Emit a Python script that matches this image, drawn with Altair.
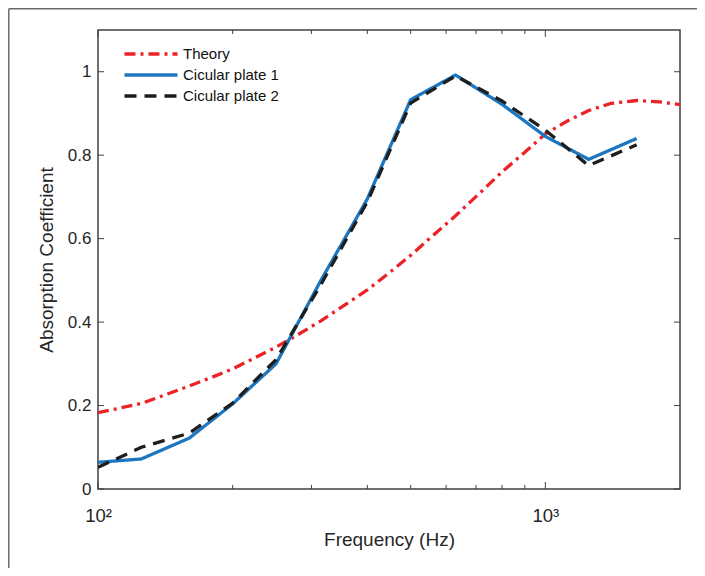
import altair as alt
import pandas as pd

# ---- data ----
freqs = [100, 125, 160, 200, 250, 315, 400, 500, 630, 800, 1000, 1250, 1600]
plate1 = [0.064, 0.072, 0.122, 0.204, 0.300, 0.500, 0.695, 0.933, 0.992, 0.922, 0.845, 0.790, 0.840]
plate2 = [0.052, 0.100, 0.134, 0.206, 0.310, 0.490, 0.688, 0.925, 0.990, 0.930, 0.860, 0.775, 0.825]

theory_freqs = [100, 112, 125, 140, 160, 180, 200, 225, 250, 280, 315, 355, 400, 450,
                500, 560, 630, 710, 800, 900, 1000, 1120, 1250, 1400, 1600, 1800, 2000]
theory_vals = [0.183, 0.194, 0.205, 0.224, 0.247, 0.268, 0.288, 0.315, 0.340, 0.370,
               0.403, 0.440, 0.477, 0.520, 0.560, 0.607, 0.655, 0.707, 0.760, 0.807,
               0.851, 0.882, 0.907, 0.924, 0.931, 0.928, 0.921]

series_names = ["Theory", "Cicular plate 1", "Cicular plate 2"]
series_colors = ["#ec2227", "#1c77c0", "#1e1e1e"]
series_dash = [[11, 5, 3, 5], [1, 0], [12, 8]]

x_major = [100, 1000]
x_minor = [200, 300, 400, 500, 600, 700, 800, 900]
y_ticks = [0, 0.2, 0.4, 0.6, 0.8, 1.0]

x_domain = [100, 2000]
y_domain = [0, 1.1]

W, H = 582, 459
FONT = "Liberation Sans"
AXIS_COLOR = "#404040"
X_TITLE = "Frequency (Hz)"
Y_TITLE = "Absorption Coefficient"

rows = []
for f, v in zip(theory_freqs, theory_vals):
    rows.append({"freq": f, "val": v, "series": series_names[0], "order": 0})
for f, v in zip(freqs, plate1):
    rows.append({"freq": f, "val": v, "series": series_names[1], "order": 1})
for f, v in zip(freqs, plate2):
    rows.append({"freq": f, "val": v, "series": series_names[2], "order": 2})
df = pd.DataFrame(rows)

xscale = alt.Scale(type="log", domain=x_domain, nice=False)
yscale = alt.Scale(domain=y_domain, nice=False, zero=False)

xaxis = alt.Axis(values=x_major, ticks=False, grid=False, domain=False,
                 labelExpr="datum.value == 100 ? '10²' : '10³'",
                 labelFontSize=18.5, labelPadding=17, titlePadding=6, labelFlush=False)
yaxis = alt.Axis(values=y_ticks, ticks=False, grid=False, domain=False,
                 format="~g", labelPadding=7, titlePadding=11)


def xenc(field):
    return alt.X(field, type="quantitative", scale=xscale, title=X_TITLE, axis=xaxis)


def yenc(field):
    return alt.Y(field, type="quantitative", scale=yscale, title=Y_TITLE, axis=yaxis)


legend = alt.Legend(
    title=None, orient="none", legendX=40, legendY=11,
    symbolType="M-2.41,0L2.41,0", symbolSize=484, symbolStrokeWidth=3.3,
    labelOffset=19, labelFont=FONT, labelFontSize=15, labelColor="#111111",
    rowPadding=0, padding=0,
)

lines = alt.Chart(df).mark_line(strokeWidth=3.3, clip=True).encode(
    x=xenc("freq"),
    y=yenc("val"),
    color=alt.Color("series:N", scale=alt.Scale(domain=series_names, range=series_colors),
                    legend=legend),
    strokeDash=alt.StrokeDash("series:N", scale=alt.Scale(domain=series_names, range=series_dash),
                              legend=legend),
    order="order:Q",
)


def xtick_layer(values, length, top):
    d = pd.DataFrame({"freq": values})
    if top:
        y1, y2 = 0, length
    else:
        y1, y2 = H, H - length
    return alt.Chart(d).mark_rule(color=AXIS_COLOR, strokeWidth=1).encode(
        x=xenc("freq"), y=alt.value(y1), y2=alt.value(y2))


def ytick_layer(right):
    d = pd.DataFrame({"val": y_ticks})
    if right:
        x1, x2 = W, W - 6
    else:
        x1, x2 = 0, 6
    return alt.Chart(d).mark_rule(color=AXIS_COLOR, strokeWidth=1).encode(
        y=yenc("val"), x=alt.value(x1), x2=alt.value(x2))


frame_df = pd.DataFrame({"k": [0]})
frame_v = alt.Chart(frame_df).mark_rule(color="#6a6a6a", strokeWidth=1.5).encode(
    x=alt.value(-89.2), y=alt.value(-21.2), y2=alt.value(560))
frame_h = alt.Chart(frame_df).mark_rule(color="#6a6a6a", strokeWidth=1.5).encode(
    x=alt.value(-89.2), x2=alt.value(620), y=alt.value(-21.2))

chart = alt.layer(
    lines,
    xtick_layer(x_major, 7, False), xtick_layer(x_minor, 4, False),
    xtick_layer(x_major, 7, True), xtick_layer(x_minor, 4, True),
    ytick_layer(False), ytick_layer(True),
    frame_v, frame_h,
).properties(
    width=W, height=H,
    autosize=alt.AutoSizeParams(type="none"),
    padding={"left": 90, "top": 22, "right": 17, "bottom": 79},
    background="white",
).configure_view(
    stroke=AXIS_COLOR, strokeWidth=1.5,
).configure_axis(
    labelFont=FONT, titleFont=FONT, labelFontSize=17, titleFontSize=19,
    labelColor="#262626", titleColor="#262626", titleFontWeight="normal",
)

chart.save("out.html", embed_options={"renderer": "svg", "actions": False})
